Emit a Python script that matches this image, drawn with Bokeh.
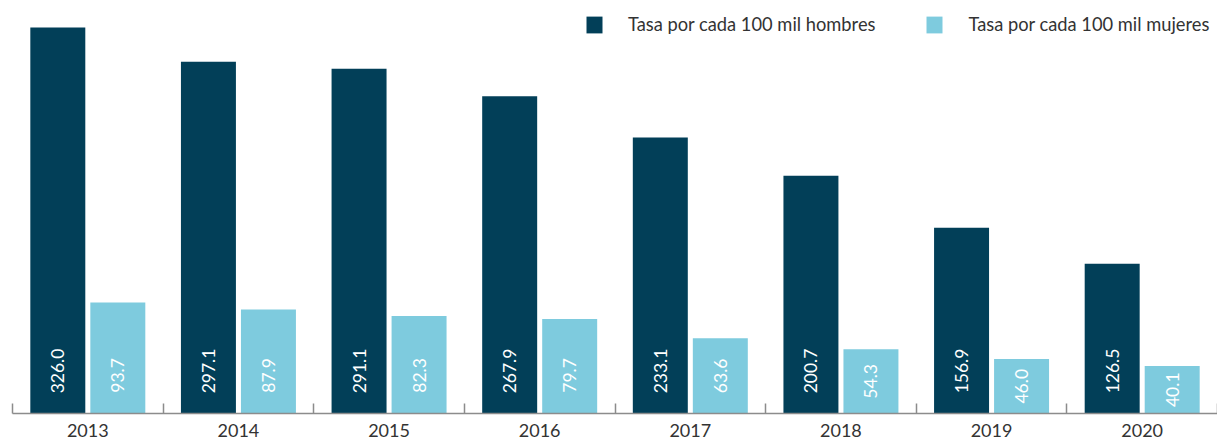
import numpy as np
from bokeh.plotting import figure
from bokeh.models import ColumnDataSource, Range1d, FixedTicker, Legend, LegendItem
from bokeh.transform import dodge
from bokeh.core.properties import value
from bokeh.embed import file_html
from bokeh.resources import INLINE

years = ["2013", "2014", "2015", "2016", "2017", "2018", "2019", "2020"]
hombres = [326.0, 297.1, 291.1, 267.9, 233.1, 200.7, 156.9, 126.5]
mujeres = [93.7, 87.9, 82.3, 79.7, 63.6, 54.3, 46.0, 40.1]
series_names = ["Tasa por cada 100 mil hombres", "Tasa por cada 100 mil mujeres"]

DARK = "#023f58"
LIGHT = "#7ecbde"
FONT = "Lato"

FRAME_H = 405
Y_MAX = 342
k = FRAME_H / Y_MAX  # pixels per unit


def label_centers(vals, labels):
    # text sits ~20px above the base; if it doesn't fit, it is centred in the bar
    out = []
    for v, t in zip(vals, labels):
        text_len = 8.8 * len(t)
        out.append(min(v / 2, (20.5 + text_len / 2) / k))
    return out


idx = np.arange(len(years)) + 0.5
hl = [f"{v:.1f}" for v in hombres]
ml = [f"{v:.1f}" for v in mujeres]
src = ColumnDataSource(dict(
    x=idx, h=hombres, m=mujeres, hl=hl, ml=ml,
    hy=label_centers(hombres, hl), my=label_centers(mujeres, ml),
))

p = figure(frame_width=1205, frame_height=FRAME_H, output_backend="svg", toolbar_location=None,
           x_range=Range1d(0, len(years)), y_range=Range1d(0, Y_MAX),
           min_border_left=12, min_border_right=0, min_border_top=8, min_border_bottom=0)
p.outline_line_color = None
p.xgrid.visible = False
p.ygrid.visible = False
p.yaxis.visible = False
p.background_fill_color = "white"
p.border_fill_color = "white"

bw = 0.365
off = 0.1992
r1 = p.vbar(x=dodge("x", -off, range=p.x_range), top="h", width=bw, source=src,
            fill_color=DARK, line_color=None)
r2 = p.vbar(x=dodge("x", off, range=p.x_range), top="m", width=bw, source=src,
            fill_color=LIGHT, line_color=None)

for col, ycol, o in (("hl", "hy", -off), ("ml", "my", off)):
    p.text(x=dodge("x", o, range=p.x_range), y=ycol, text=col, source=src, angle=np.pi / 2,
           text_align="center", text_baseline="middle",
           text_color="white", text_font=value(FONT), text_font_size="17.5px")

ax = p.xaxis[0]
ax.ticker = FixedTicker(ticks=list(idx), minor_ticks=list(range(len(years) + 1)))
ax.major_label_overrides = {float(v): y for v, y in zip(idx, years)}
ax.major_tick_in = 0
ax.major_tick_out = 0
ax.minor_tick_in = 10
ax.minor_tick_out = 0
ax.minor_tick_line_color = "#8c8c8c"
ax.minor_tick_line_width = 1.5
ax.axis_line_color = "#8c8c8c"
ax.axis_line_width = 1.5
ax.major_label_standoff = 10
ax.major_label_text_font = FONT
ax.major_label_text_font_size = "18px"
ax.major_label_text_color = "#333333"

legend = Legend(items=[LegendItem(label=series_names[0], renderers=[r1]),
                       LegendItem(label=series_names[1], renderers=[r2])],
                orientation="horizontal", location=(572, FRAME_H - 6 - 21),
                glyph_width=20, glyph_height=21, label_standoff=24, spacing=49,
                padding=0, margin=0, border_line_color=None, background_fill_alpha=0,
                label_text_font=FONT, label_text_font_size="18.3px", label_text_color="#333333",
                label_height=21)
p.add_layout(legend)

open("out.html", "w").write(file_html(p, INLINE))
